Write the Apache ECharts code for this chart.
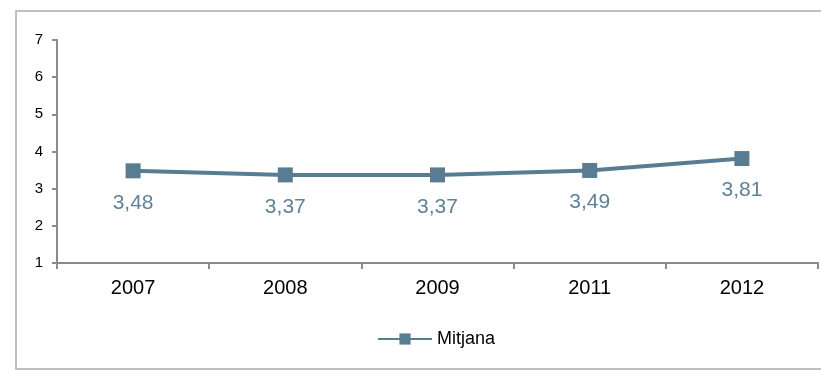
<!DOCTYPE html>
<html>
<head>
<meta charset="utf-8">
<script src="https://cdn.jsdelivr.net/npm/echarts@6/dist/echarts.min.js"></script>
<style>
  html, body { margin: 0; padding: 0; background: #fff; }
  #chart { width: 821px; height: 370px; }
</style>
</head>
<body>
<div id="chart"></div>
<script>
// Yearly averages
const years = ['2007', '2008', '2009', '2011', '2012'];
const mitjana = [3.48, 3.37, 3.37, 3.49, 3.81];
const yTicks = [1, 2, 3, 4, 5, 6, 7];

const lineColor = '#587c92';
const axisGray = '#8c8c8c';
const font = 'Liberation Sans, Arial, sans-serif';

const chart = echarts.init(document.getElementById('chart'));
chart.setOption({
  animation: false,
  backgroundColor: '#ffffff',
  graphic: [{
    type: 'rect',
    shape: { x: 16, y: 11, width: 830, height: 358 },
    style: { fill: 'none', stroke: '#c0c0c0', lineWidth: 2 },
    silent: true
  }],
  grid: { left: 57, right: 3, top: 40, bottom: 107, containLabel: false },
  legend: {
    left: 372,
    top: 325,
    itemWidth: 54,
    itemHeight: 14,
    itemGap: 4,
    textStyle: { fontFamily: font, fontSize: 18, color: '#000', padding: [0, 0, 0, 0] },
    data: ['Mitjana']
  },
  xAxis: {
    type: 'category',
    data: years,
    boundaryGap: true,
    axisLine: { lineStyle: { color: axisGray, width: 2 } },
    axisTick: { show: true, length: 6, lineStyle: { color: axisGray, width: 2 } },
    axisLabel: { fontFamily: font, fontSize: 20, color: '#000', margin: 15 }
  },
  yAxis: {
    type: 'value',
    min: yTicks[0],
    max: yTicks[yTicks.length - 1],
    interval: 1,
    splitLine: { show: false },
    axisLine: { show: true, lineStyle: { color: axisGray, width: 2 } },
    axisTick: { show: true, length: 5, lineStyle: { color: axisGray, width: 2 } },
    axisLabel: { fontFamily: font, fontSize: 15, color: '#000', margin: 14 }
  },
  series: [{
    name: 'Mitjana',
    type: 'line',
    data: mitjana,
    symbol: 'rect',
    symbolSize: 15,
    lineStyle: { color: lineColor, width: 4 },
    itemStyle: { color: lineColor },
    label: {
      show: true,
      position: 'bottom',
      distance: 14,
      fontFamily: font,
      fontSize: 21,
      color: '#5f8296',
      formatter: p => p.value.toFixed(2).replace('.', ',')
    }
  }]
});
</script>
</body>
</html>
